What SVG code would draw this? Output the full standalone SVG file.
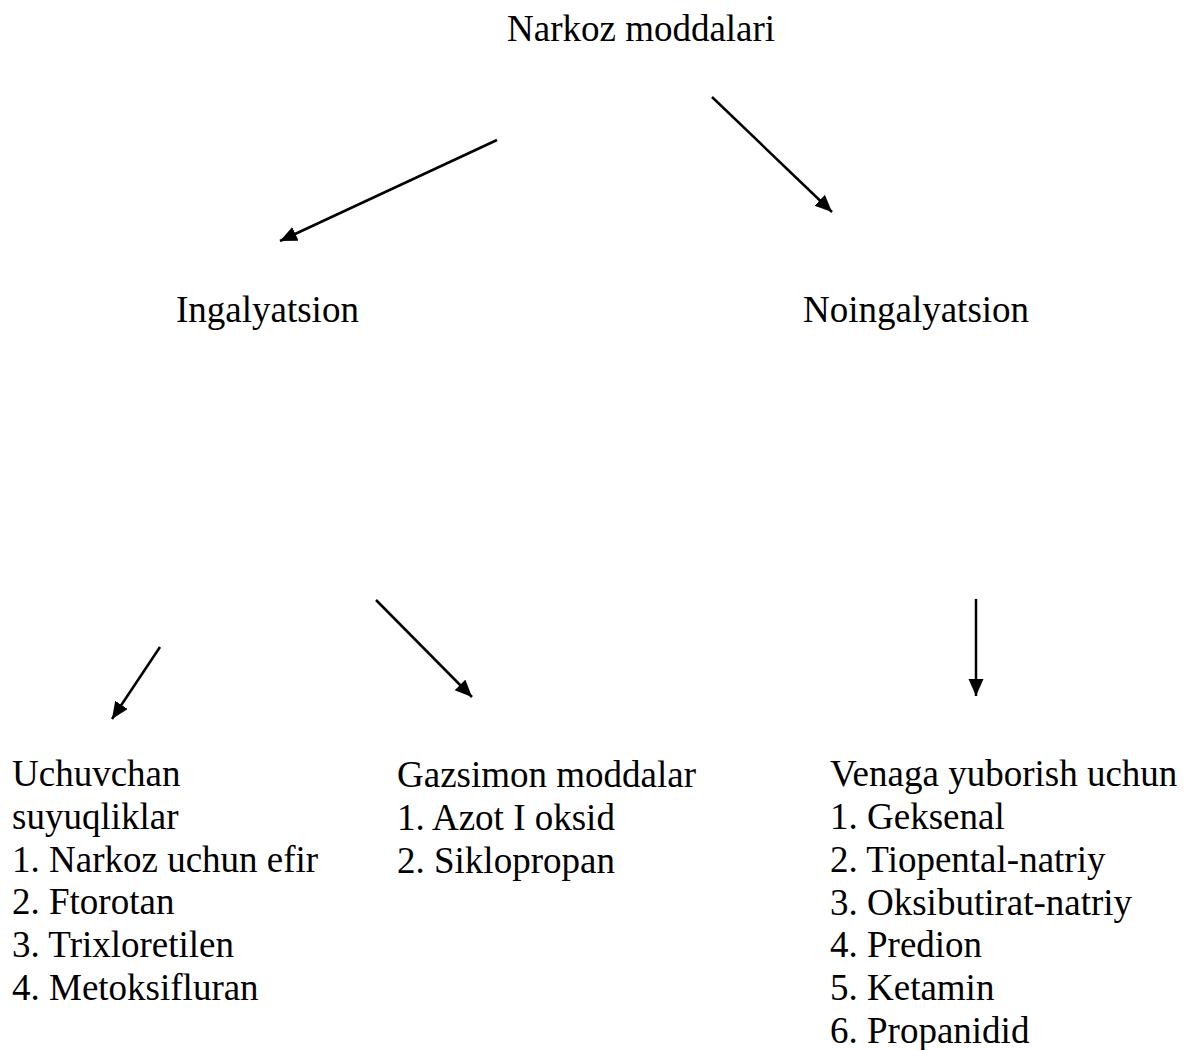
<svg xmlns="http://www.w3.org/2000/svg" width="1185" height="1050" viewBox="0 0 1185 1050">
<style>
text{font-family:"Liberation Serif","Times New Roman",serif;font-size:37px;fill:#000}
.c line{stroke:#000;stroke-width:2.5;marker-end:url(#ah)}
</style>
<defs>
<marker id="ah" markerUnits="userSpaceOnUse" markerWidth="18" markerHeight="16" refX="17" refY="7.5" orient="auto">
<path d="M0,0 L17,7.5 L0,15 z" fill="#000"/>
</marker>
</defs>
<rect width="1185" height="1050" fill="#fff"/>
<g id="root"><text x="507" y="41">Narkoz moddalari</text></g>
<g id="ingalyatsion"><text x="176" y="322">Ingalyatsion</text></g>
<g id="noingalyatsion"><text x="803" y="322">Noingalyatsion</text></g>
<g id="uchuvchan">
<text x="12" y="786">Uchuvchan</text>
<text x="12" y="829">suyuqliklar</text>
<text x="12" y="872">1. Narkoz uchun efir</text>
<text x="12" y="914">2. Ftorotan</text>
<text x="12" y="957">3. Trixloretilen</text>
<text x="12" y="1000">4. Metoksifluran</text>
</g>
<g id="gazsimon">
<text x="397" y="787">Gazsimon moddalar</text>
<text x="397" y="830">1. Azot I oksid</text>
<text x="397" y="873">2. Siklopropan</text>
</g>
<g id="venaga">
<text x="830" y="786">Venaga yuborish uchun</text>
<text x="830" y="829">1. Geksenal</text>
<text x="830" y="872">2. Tiopental-natriy</text>
<text x="830" y="915">3. Oksibutirat-natriy</text>
<text x="830" y="957">4. Predion</text>
<text x="830" y="1000">5. Ketamin</text>
<text x="830" y="1043">6. Propanidid</text>
</g>
<g id="connectors" class="c">
<line x1="497" y1="140" x2="280" y2="241"/>
<line x1="712" y1="97" x2="832" y2="212"/>
<line x1="160" y1="647" x2="112" y2="719"/>
<line x1="376" y1="600" x2="472" y2="697"/>
<line x1="976" y1="599" x2="976" y2="696"/>
</g>
</svg>
